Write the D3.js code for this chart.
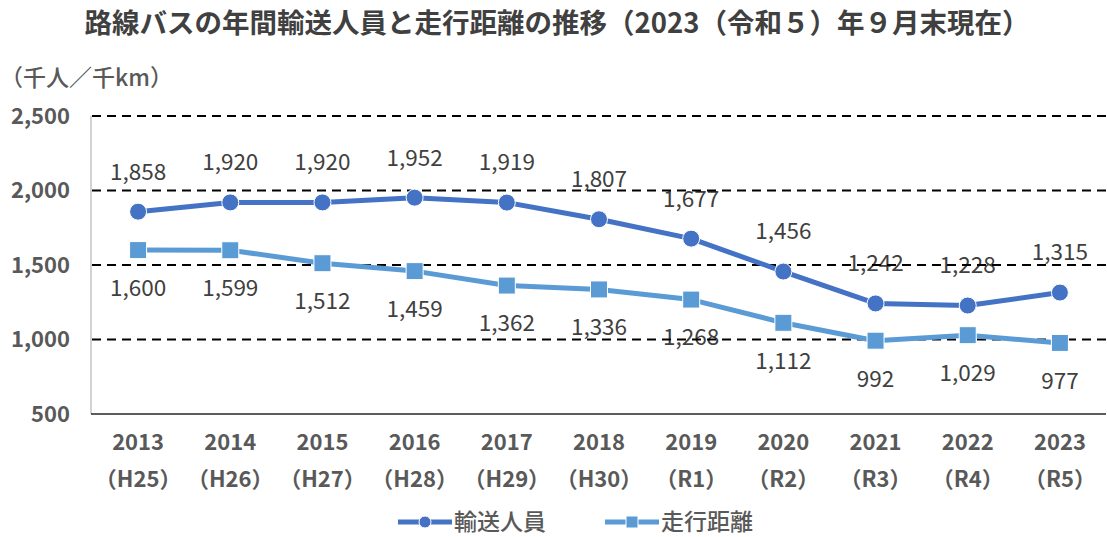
<!DOCTYPE html>
<html>
<head>
<meta charset="utf-8">
<script src="https://cdn.jsdelivr.net/npm/d3@7"></script>
<style>
  body { margin: 0; background: #fff; }
  svg text { font-family: "Noto Sans CJK JP", "Noto Sans", sans-serif; }
</style>
</head>
<body>
<div id="chart"></div>
<script>
// data
const years = ["2013", "2014", "2015", "2016", "2017", "2018", "2019", "2020", "2021", "2022", "2023"];
const eras = ["（H25）", "（H26）", "（H27）", "（H28）", "（H29）", "（H30）", "（R1）", "（R2）", "（R3）", "（R4）", "（R5）"];
const passengers = [1858, 1920, 1920, 1952, 1919, 1807, 1677, 1456, 1242, 1228, 1315];
const distance = [1600, 1599, 1512, 1459, 1362, 1336, 1268, 1112, 992, 1029, 977];
const yTicks = [500, 1000, 1500, 2000, 2500];

const width = 1107, height = 537;
const margin = { top: 116, right: 1, bottom: 123, left: 92 };

const svg = d3.select("#chart").append("svg")
  .attr("width", width)
  .attr("height", height);

const x = d3.scaleBand()
  .domain(years)
  .range([margin.left, width - margin.right]);

const y = d3.scaleLinear()
  .domain([500, 2500])
  .range([height - margin.bottom, margin.top]);

const cx = d => x(d) + x.bandwidth() / 2;
const fmt = d3.format(",");

// title
svg.append("text")
  .attr("x", 557)
  .attr("y", 33)
  .attr("text-anchor", "middle")
  .style("font-size", "27.5px")
  .style("font-weight", "bold")
  .attr("fill", "#404040")
  .text("路線バスの年間輸送人員と走行距離の推移（2023（令和５）年９月末現在）");

svg.append("text")
  .attr("x", 0)
  .attr("y", 86)
  .style("font-size", "23px")
  .style("font-weight", "500")
  .attr("fill", "#595959")
  .text("（千人／千km）");

// y tick labels
svg.selectAll(".ytick")
  .data(yTicks)
  .enter()
  .append("text")
  .attr("x", 70)
  .attr("y", d => y(d))
  .attr("dy", "0.35em")
  .attr("text-anchor", "end")
  .style("font-size", "22px")
  .style("font-weight", "bold")
  .attr("fill", "#595959")
  .text(d => fmt(d));

// x labels
svg.selectAll(".xyear")
  .data(years)
  .enter()
  .append("text")
  .attr("x", d => cx(d))
  .attr("y", 442)
  .attr("dy", "0.35em")
  .attr("text-anchor", "middle")
  .style("font-size", "22px")
  .style("font-weight", "bold")
  .attr("fill", "#595959")
  .text(d => d);

svg.selectAll(".xera")
  .data(eras)
  .enter()
  .append("text")
  .attr("x", (d, i) => cx(years[i]))
  .attr("y", 479)
  .attr("dy", "0.35em")
  .attr("text-anchor", "middle")
  .style("font-size", "22px")
  .style("font-weight", "bold")
  .attr("fill", "#595959")
  .text(d => d);

// data labels (drawn under the grid, as in the original)
svg.selectAll(".plabel")
  .data(passengers)
  .enter()
  .append("text")
  .attr("x", (d, i) => cx(years[i]))
  .attr("y", d => y(d) - 40)
  .attr("dy", "0.35em")
  .attr("text-anchor", "middle")
  .style("font-size", "22.5px")
  .attr("fill", "#404040")
  .text(d => fmt(d));

svg.selectAll(".dlabel")
  .data(distance)
  .enter()
  .append("text")
  .attr("x", (d, i) => cx(years[i]))
  .attr("y", d => y(d) + 38)
  .attr("dy", "0.35em")
  .attr("text-anchor", "middle")
  .style("font-size", "22.5px")
  .attr("fill", "#404040")
  .text(d => fmt(d));

// grid
svg.selectAll(".grid")
  .data(yTicks.filter(d => d > 500))
  .enter()
  .append("line")
  .attr("x1", margin.left)
  .attr("x2", width - margin.right)
  .attr("y1", d => y(d))
  .attr("y2", d => y(d))
  .attr("stroke", "#000")
  .attr("stroke-width", 2)
  .attr("stroke-dasharray", "9,6");

// axes lines
svg.append("line")
  .attr("x1", margin.left - 1).attr("x2", margin.left - 1)
  .attr("y1", y(2500)).attr("y2", y(500))
  .attr("stroke", "#a6a6a6")
  .attr("stroke-width", 1);

svg.append("line")
  .attr("x1", margin.left - 1).attr("x2", width - margin.right)
  .attr("y1", y(500)).attr("y2", y(500))
  .attr("stroke", "#262626")
  .attr("stroke-width", 1.5);

// series
const line = d3.line()
  .x((d, i) => cx(years[i]))
  .y(d => y(d));

svg.append("path")
  .datum(distance)
  .attr("d", line)
  .attr("fill", "none")
  .attr("stroke", "#5b9bd5")
  .attr("stroke-width", 5)
  .attr("stroke-linejoin", "round");

svg.selectAll(".sq")
  .data(distance)
  .enter()
  .append("rect")
  .attr("x", (d, i) => cx(years[i]) - 8.5)
  .attr("y", d => y(d) - 8.5)
  .attr("width", 17)
  .attr("height", 17)
  .attr("fill", "#5b9bd5")
  .attr("stroke", "#fff")
  .attr("stroke-width", 1);

svg.append("path")
  .datum(passengers)
  .attr("d", line)
  .attr("fill", "none")
  .attr("stroke", "#4472c4")
  .attr("stroke-width", 5)
  .attr("stroke-linejoin", "round");

svg.selectAll(".dot")
  .data(passengers)
  .enter()
  .append("circle")
  .attr("cx", (d, i) => cx(years[i]))
  .attr("cy", d => y(d))
  .attr("r", 8.5)
  .attr("fill", "#4472c4")
  .attr("stroke", "#fff")
  .attr("stroke-width", 1);

// legend
const legend = [
  { name: "輸送人員", color: "#4472c4", shape: "circle", x: 398 },
  { name: "走行距離", color: "#5b9bd5", shape: "square", x: 605 }
];
const ly = 522;

legend.forEach(l => {
  const g = svg.append("g");
  g.append("line")
    .attr("x1", l.x).attr("x2", l.x + 54)
    .attr("y1", ly).attr("y2", ly)
    .attr("stroke", l.color)
    .attr("stroke-width", 5);
  if (l.shape === "circle") {
    g.append("circle")
      .attr("cx", l.x + 27).attr("cy", ly).attr("r", 6)
      .attr("fill", l.color).attr("stroke", "#fff").attr("stroke-width", 1);
  } else {
    g.append("rect")
      .attr("x", l.x + 21).attr("y", ly - 6).attr("width", 12).attr("height", 12)
      .attr("fill", l.color).attr("stroke", "#fff").attr("stroke-width", 1);
  }
  g.append("text")
    .attr("x", l.x + 56)
    .attr("y", ly)
    .attr("dy", "0.35em")
    .style("font-size", "23px")
    .style("font-weight", "500")
    .attr("fill", "#595959")
    .text(l.name);
});
</script>
</body>
</html>
